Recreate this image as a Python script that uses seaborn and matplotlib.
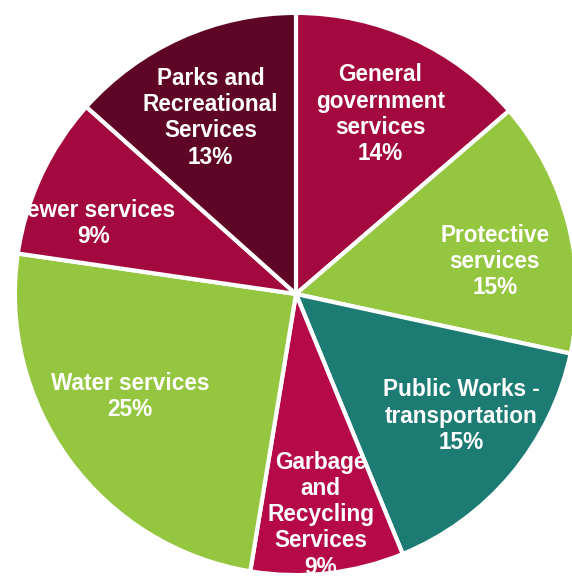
import matplotlib
matplotlib.use("Agg")
import matplotlib.pyplot as plt
import seaborn as sns
import numpy as np

categories = ["General\ngovernment\nservices", "Protective\nservices",
              "Public Works -\ntransportation", "Garbage\nand\nRecycling\nServices",
              "Water services", "Sewer services", "Parks and\nRecreational\nServices"]
values = [13.7, 14.7, 15.4, 8.8, 24.7, 9.3, 13.4]
colors = ["#A3093E", "#94C640", "#1C7B73", "#B50A47", "#94C640", "#A3093E", "#5F0626"]
# label placement (radius fraction, extra dx, extra dy) in radius units
label_r = [0.72, 0.73, 0.72, 0.78, 0.62, 0.72, 0.72]
label_dx = [0.0, 0.0, 0.035, 0.0, -0.09, -0.068, -0.01]
label_dy = [-0.015, -0.064, 0.028, -0.01, 0.0, -0.053, -0.03]

sns.set_theme(style="white")
plt.rcParams['font.family'] = ['Liberation Sans', 'DejaVu Sans']

fig = plt.figure(figsize=(5.72, 5.79), dpi=100)
ax = fig.add_axes([0, 0, 1, 1])
wedges, _ = ax.pie(values, colors=colors, startangle=90, counterclock=False,
                   radius=1.0, wedgeprops=dict(edgecolor="white", linewidth=3))
total = sum(values)
for i, w in enumerate(wedges):
    theta = np.deg2rad((w.theta1 + w.theta2) / 2)
    x = label_r[i] * np.cos(theta) + label_dx[i]
    y = label_r[i] * np.sin(theta) + label_dy[i]
    pct = round(values[i] / total * 100)
    ax.text(x, y, f"{categories[i]}\n{pct}%", ha="center", va="center",
            color="white", fontsize=16.3, fontweight="bold", linespacing=1.18)
ax.set_xlim(-1.053, 0.982)
ax.set_ylim(-1.014, 1.046)
ax.set_aspect("auto")
ax.axis("off")
fig.savefig("out.png", dpi=100)
